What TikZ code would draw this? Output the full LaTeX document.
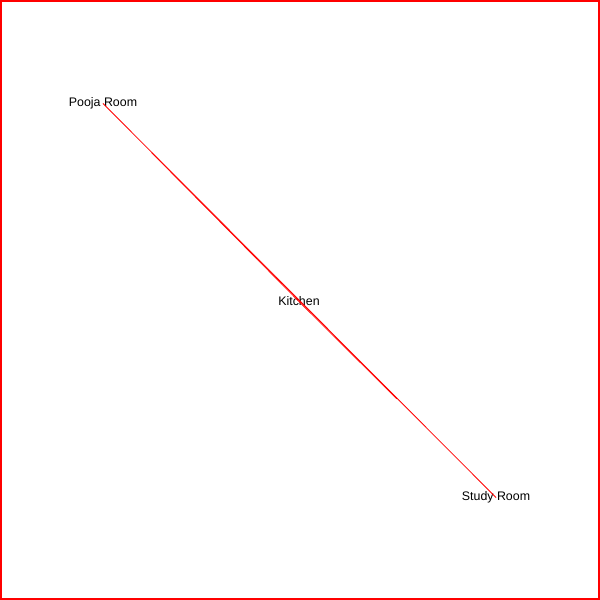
\documentclass[tikz,border=0pt]{standalone}
\usepackage{fontspec}
\setmainfont{Liberation Sans}
\begin{document}
\begin{tikzpicture}[x=1pt,y=1pt,
  lbl/.style={inner sep=0pt,font=\fontsize{12.4}{14}\selectfont,text=black},
  edge/.style={draw=red,line width=0.8pt}]
\useasboundingbox (0,0) rectangle (600,600);
\draw[red,line width=2pt] (1,1) rectangle (599,599);
\node[lbl] (p) at (103,496.5) {Pooja Room};
\node[lbl] (k) at (299,298.5) {Kitchen};
\node[lbl] (s) at (496,102.5) {Study Room};
\draw[edge] (p.center) -- (s.center);
\draw[edge,shorten <=69pt] (p.center) -- (k.center);
\draw[edge,shorten >=140pt] (k.center) -- (s.center);
\end{tikzpicture}
\end{document}
